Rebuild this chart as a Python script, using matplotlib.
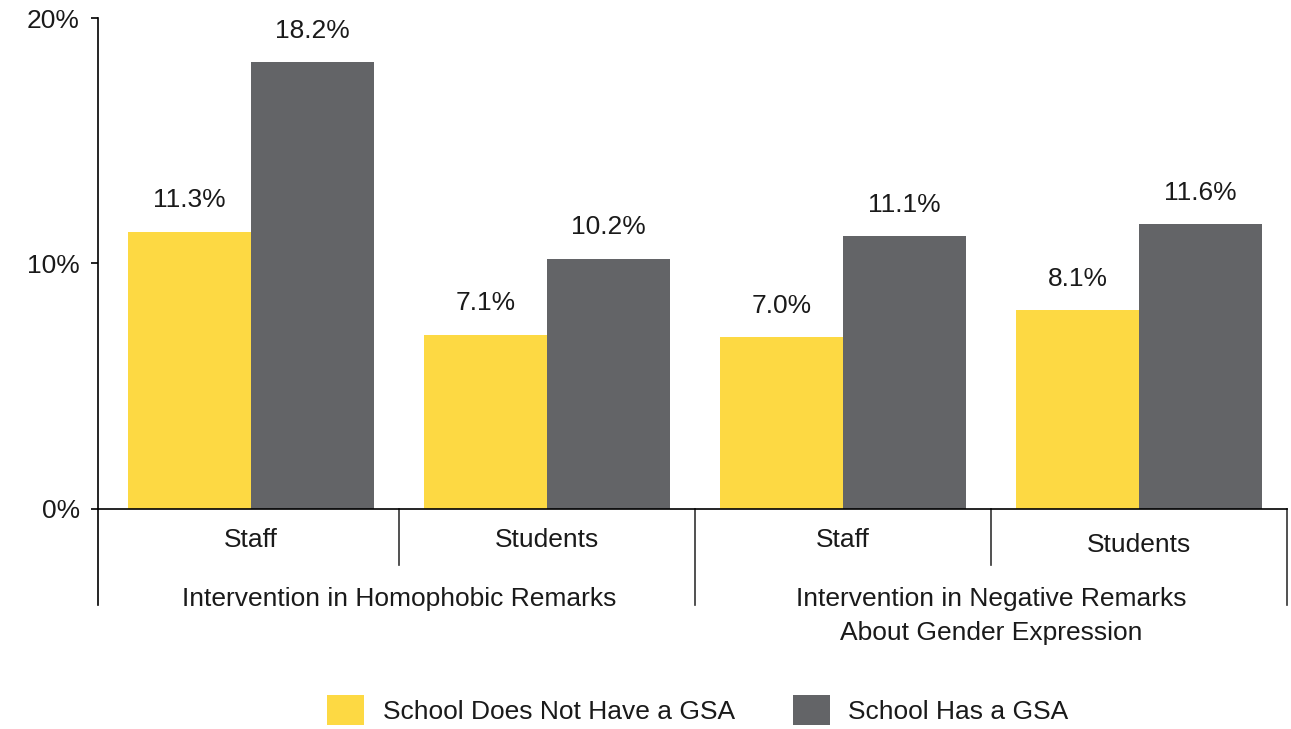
import matplotlib
matplotlib.use("Agg")
import matplotlib.pyplot as plt
import matplotlib.transforms as mtransforms
from matplotlib.patches import Patch

plt.rcParams['font.family'] = ['Liberation Sans', 'DejaVu Sans']

categories = ["Staff", "Students", "Staff", "Students"]
groups = ["Intervention in Homophobic Remarks",
          "Intervention in Negative Remarks\nAbout Gender Expression"]
series_names = ["School Does Not Have a GSA", "School Has a GSA"]
no_gsa = [11.3, 7.1, 7.0, 8.1]
has_gsa = [18.2, 10.2, 11.1, 11.6]
yticks = [0, 10, 20]
ytick_labels = ["0%", "10%", "20%"]

YELLOW = "#FDD943"
GRAY = "#636467"
TXT = "#1a1a1a"
FS = 19

fig = plt.figure(figsize=(12.91, 7.29), dpi=100)
ax = fig.add_axes([0.0759, 0.3018, 0.9969 - 0.0759, 0.9753 - 0.3018])

x = list(range(len(categories)))
w = 0.415
b1 = ax.bar([i - w / 2 for i in x], no_gsa, width=w, color=YELLOW)
b2 = ax.bar([i + w / 2 for i in x], has_gsa, width=w, color=GRAY)

for bars, vals in ((b1, no_gsa), (b2, has_gsa)):
    for r, v in zip(bars, vals):
        ax.annotate(f"{v:.1f}%", (r.get_x() + r.get_width() / 2, v),
                    xytext=(0, 14), textcoords="offset points",
                    ha="center", va="bottom", fontsize=FS, color=TXT)

ax.set_xlim(-0.517, 3.5)
ax.set_ylim(0, 20)
ax.set_yticks(yticks)
ax.set_yticklabels(ytick_labels, fontsize=FS, color=TXT)
ax.tick_params(axis="y", direction="out", length=5, width=1.2, pad=8)
ax.set_xticks([])
for s in ["top", "right"]:
    ax.spines[s].set_visible(False)
ax.spines["left"].set_linewidth(1.2)
ax.spines["bottom"].set_linewidth(1.2)
ax.spines["left"].set_bounds(0, 20)

trans = mtransforms.blended_transform_factory(ax.transData, ax.transAxes)
ax.plot([-0.517, -0.517], [0, -0.1955], transform=trans, color="black", lw=1.2, clip_on=False)
for xs in (0.5, 2.5):
    ax.plot([xs, xs], [0, -0.114], transform=trans, color="#333333", lw=1.2, clip_on=False)
for xs in (1.5, 3.5):
    ax.plot([xs, xs], [0, -0.1955], transform=trans, color="#333333", lw=1.2, clip_on=False)

cat_y = [-0.063, -0.063, -0.063, -0.073]
for i, (c, yy) in enumerate(zip(categories, cat_y)):
    ax.text(i, yy, c, transform=trans, ha="center", va="center", fontsize=FS, color=TXT)

ax.text(0.5, -0.183, groups[0], transform=trans, ha="center", va="center", fontsize=FS, color=TXT)
ax.text(2.5, -0.218, groups[1], transform=trans, ha="center", va="center", fontsize=FS,
        color=TXT, linespacing=1.5)

handles = [Patch(facecolor=YELLOW, edgecolor="none"), Patch(facecolor=GRAY, edgecolor="none")]
fig.legend(handles, series_names, loc="center", bbox_to_anchor=(698 / 1291, 1 - 710 / 729),
           ncol=2, frameon=False, fontsize=FS, handlelength=1.4, handleheight=1.35,
           handletextpad=0.7, columnspacing=2.2, labelcolor=TXT)

fig.savefig("out.png", dpi=100)
